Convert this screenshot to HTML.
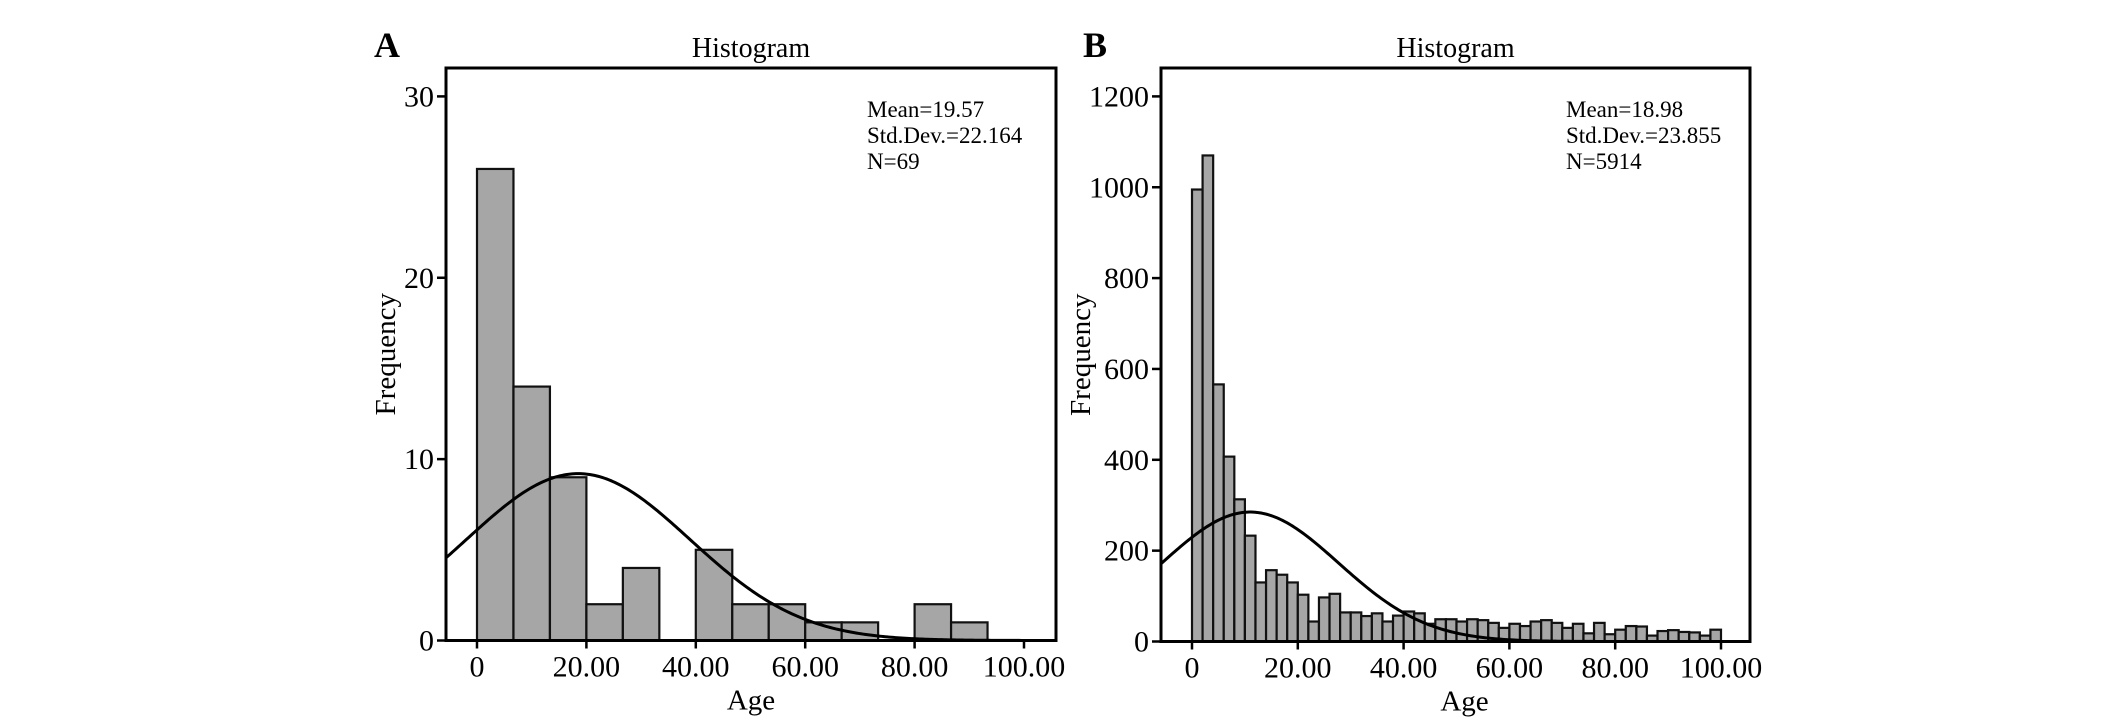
<!DOCTYPE html>
<html><head><meta charset="utf-8"><style>
html,body{margin:0;padding:0;background:#fff;}
svg{display:block;font-family:"Liberation Serif",serif;}
</style></head><body>
<svg id="chart" width="2126" height="724" viewBox="0 0 2126 724" xmlns="http://www.w3.org/2000/svg"></svg>
<script>
// Panel A data
const aBinWidth = 6.6667;
const aCounts = [26,14,9,2,4,0,5,2,2,1,1,0,2,1];
const aYTicks = [0,10,20,30];
const aXTicks = [0,20,40,60,80,100];
const aXTickLabels = ["0","20.00","40.00","60.00","80.00","100.00"];
const aCurve = [18.5, 9.2, 20.4]; // peak position, peak height, spread
const aStats = ["Mean=19.57","Std.Dev.=22.164","N=69"];
// Panel B data
const bBinWidth = 2;
const bCounts = [995,1070,566,407,313,233,130,157,147,130,103,44,97,105,64,64,56,62,44,57,66,62,39,49,49,44,49,47,41,30,39,34,44,47,41,30,39,18,41,16,26,34,33,13,23,25,21,20,13,26];
const bYTicks = [0,200,400,600,800,1000,1200];
const bXTicks = [0,20,40,60,80,100];
const bXTickLabels = ["0","20.00","40.00","60.00","80.00","100.00"];
const bCurve = [11, 285, 16.7];
const bStats = ["Mean=18.98","Std.Dev.=23.855","N=5914"];

const svg = document.getElementById('chart');
const NS = 'http://www.w3.org/2000/svg';
function mk(tag, attrs, parent){
  const e = document.createElementNS(NS, tag);
  for (const k in attrs) e.setAttribute(k, attrs[k]);
  (parent||svg).appendChild(e);
  return e;
}
function panel(cfg){
  const g = mk('g', {});
  
  
  const L=cfg.L,R=cfg.R,T=cfg.T,B=cfg.B;
  const xs = v => cfg.x0 + (v) * cfg.xu;
  const ys = v => B - (v / cfg.ymax) * (B - cfg.ytop);
  cfg.counts.forEach((c,i)=>{
    if (c<=0) return;
    const x1 = xs(i*cfg.bw), x2 = xs((i+1)*cfg.bw);
    const r = mk('rect', {x:x1, y:ys(c), width:x2-x1, height:B-ys(c), fill:'#a6a6a6', stroke:'#111', 'stroke-width':2.2}, g);
    
    
  });
  let d='';
  const vmin=(L-cfg.x0)/cfg.xu, vmax=(R-cfg.x0)/cfg.xu;
  for(let k=0;k<=300;k++){
    const v=vmin+(vmax-vmin)*k/300;
    const y=cfg.curve[1]*Math.exp(-Math.pow(v-cfg.curve[0],2)/(2*cfg.curve[2]*cfg.curve[2]));
    d+=(k?'L':'M')+xs(v).toFixed(2)+' '+ys(y).toFixed(2);
  }
  const p = mk('path',{d:d,fill:'none',stroke:'#000','stroke-width':3},g);
  
  
  const f = mk('rect',{x:L,y:T,width:R-L,height:B-T,fill:'none',stroke:'#000','stroke-width':3},g);
  
  
  cfg.yt.forEach(v=>{
    mk('line',{x1:L-9,x2:L,y1:ys(v),y2:ys(v),stroke:'#000','stroke-width':2.5},g);
    const t = mk('text',{x:L-12,y:ys(v)+10,'font-size':30,'text-anchor':'end'},g);
    t.textContent=v;
    
    
  });
  cfg.xt.forEach((v,i)=>{
    mk('line',{x1:xs(v),x2:xs(v),y1:B,y2:B+8,stroke:'#000','stroke-width':2.5},g);
    const t = mk('text',{x:xs(v),y:B+36,'font-size':30,'text-anchor':'middle'},g);
    t.textContent=cfg.xl[i];
    
    
  });
  const xa = mk('text',{x:(L+R)/2+cfg.ageDx,y:B+69,'font-size':29,'text-anchor':'middle'},g);
  xa.textContent='Age';
  
  
  const ya = mk('text',{x:0,y:0,'font-size':29,'text-anchor':'middle',transform:'translate('+(cfg.fx)+','+((T+B)/2)+') rotate(-90)'},g);
  ya.textContent='Frequency';
  
  
  const ti = mk('text',{x:(L+R)/2,y:57,'font-size':28,'text-anchor':'middle'},g);
  ti.textContent='Histogram';
  
  
  const lb = mk('text',{x:cfg.lx,y:57,'font-size':36,'font-weight':'bold'},g);
  lb.textContent=cfg.label;
  
  
  cfg.stats.forEach((s,i)=>{
    const t = mk('text',{x:cfg.sx,y:117+i*26,'font-size':23},g);
    t.textContent=s;
    
    
  });
}
panel({id:'panel-a',label:'A',lx:374,L:446,R:1056,T:68,B:640.5,x0:477,xu:5.47,ymax:30,ytop:96.4,
  counts:aCounts,bw:aBinWidth,curve:aCurve,yt:aYTicks,xt:aXTicks,xl:aXTickLabels,stats:aStats,sx:867,fx:395,ageDx:0});
panel({id:'panel-b',label:'B',lx:1083,L:1161,R:1750,T:68,B:641.5,x0:1192,xu:5.29,ymax:1200,ytop:96.4,
  counts:bCounts,bw:bBinWidth,curve:bCurve,yt:bYTicks,xt:bXTicks,xl:bXTickLabels,stats:bStats,sx:1566,fx:1090,ageDx:9});
</script>
</body></html>
